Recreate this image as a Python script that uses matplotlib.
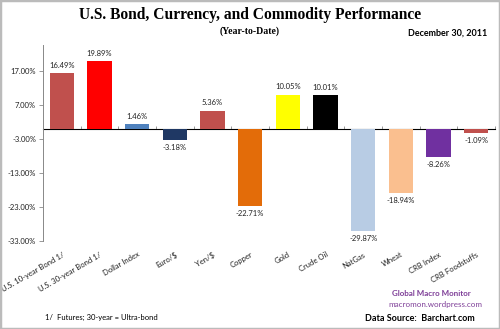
import matplotlib
matplotlib.use("Agg")
import matplotlib.pyplot as plt
from matplotlib.patches import Rectangle
import numpy as np

categories = ["U.S. 10-year Bond 1/", "U.S. 30-year Bond 1/", "Dollar Index", "Euro/$", "Yen/$",
              "Copper", "Gold", "Crude Oil", "NatGas", "Wheat", "CRB Index", "CRB Foodstuffs"]
values = [16.49, 19.89, 1.46, -3.18, 5.36, -22.71, 10.05, 10.01, -29.87, -18.94, -8.26, -1.09]
colors = ["#C0504D", "#FF0000", "#4F81BD", "#1F3864", "#C0504D", "#E36C09",
          "#FFFF00", "#000000", "#B8CCE4", "#FABF8F", "#7030A0", "#C0504D"]
yticks = [-33, -23, -13, -3, 7, 17]

plt.rcParams['font.family'] = ['Lato', 'DejaVu Sans']

fig = plt.figure(figsize=(5, 3.29), dpi=100)
ax = fig.add_axes([0.086, 0.267, 0.904, 0.596])
x = np.arange(len(categories))
ax.bar(x, values, width=0.64, color=colors, zorder=2)
ymin, ymax = -33, 24.6
ax.set_ylim(ymin, ymax)
ax.set_xlim(-0.5, len(categories) - 0.5)

for xi, v in zip(x, values):
    if v >= 0:
        ax.annotate(f"{v:.2f}%", (xi, v), xytext=(0, 3), textcoords="offset points",
                    ha="center", va="bottom", fontsize=5.5, color="#222222")
    else:
        ax.annotate(f"{v:.2f}%", (xi, v), xytext=(0, -3), textcoords="offset points",
                    ha="center", va="top", fontsize=5.5, color="#222222")

ax.set_yticks(yticks)
ax.set_yticklabels([f"{t:.2f}%" for t in yticks], fontsize=5.5, color="#222222")
ax.tick_params(axis="y", length=3, width=0.6, color="#888888", pad=2)
ax.set_xticks(x)
ax.set_xticklabels(categories, rotation=30, ha="right", rotation_mode="anchor",
                   fontsize=5.5, color="#222222")
ax.tick_params(axis="x", length=0, pad=7)
for s in ["top", "right", "bottom"]:
    ax.spines[s].set_visible(False)
ax.spines["left"].set_color("#888888")
ax.spines["left"].set_linewidth(0.7)

zero_loc = (0 - ymin) / (ymax - ymin)
sec = ax.secondary_xaxis(zero_loc)
sec.set_xticks(np.arange(len(categories) + 1) - 0.5)
sec.set_xticklabels([])
sec.tick_params(length=2.5, width=0.6, color="#888888", direction="out")
sec.spines["bottom"].set_color("#888888")
sec.spines["bottom"].set_linewidth(0.7)

fig.text(0.5, 0.953, "U.S. Bond, Currency, and Commodity Performance", ha="center", va="center",
         fontsize=11.2, fontweight="bold", family="Liberation Serif")
fig.text(0.5, 0.905, "(Year-to-Date)", ha="center", va="center",
         fontsize=7, fontweight="bold", family="Liberation Serif")
fig.text(0.974, 0.898, "December 30, 2011", ha="right", va="center",
         fontsize=6.5, fontweight="bold")

fig.text(0.09, 0.035, "1/  Futures; 30-year = Ultra-bond", ha="left", va="center", fontsize=5.5)
fig.text(0.942, 0.109, "Global Macro Monitor", ha="right", va="center", fontsize=5.8,
         fontweight="bold", color="#7F3F98")
fig.text(0.964, 0.075, "macromon.wordpress.com", ha="right", va="center", fontsize=5.8,
         color="#7F3F98")
fig.text(0.95, 0.033, "Data Source:  Barchart.com", ha="right", va="center", fontsize=6.5,
         fontweight="bold")

fig.patches.append(Rectangle((0, 0), 1, 1, transform=fig.transFigure, fill=False,
                             edgecolor="#BBBBBB", linewidth=2.5))

fig.savefig("out.png", dpi=100)
